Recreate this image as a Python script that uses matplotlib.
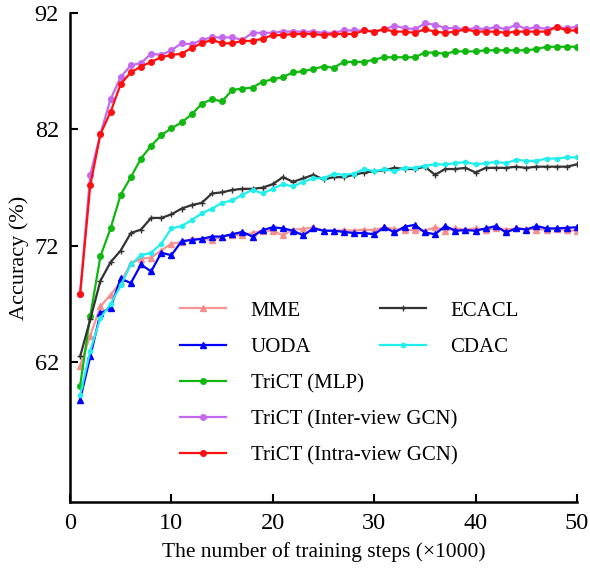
import matplotlib
matplotlib.use("Agg")
import matplotlib.pyplot as plt

# --- Data ---
steps = list(range(1, 51))

mme = [61.7, 64.3, 66.8, 67.8, 68.9, 70.5, 70.9, 71.0, 71.6, 72.2,
       72.3, 72.6, 72.6, 72.5, 72.8, 72.95, 72.9, 73.1, 73.3, 73.3,
       72.9, 73.4, 73.45, 73.6, 73.3, 73.3, 73.35, 73.3, 73.4, 73.35,
       73.6, 73.45, 73.35, 73.35, 73.3, 73.6, 73.3, 73.5, 73.4, 73.5,
       73.4, 73.5, 73.4, 73.5, 73.45, 73.4, 73.4, 73.45, 73.35, 73.3]

uoda = [58.8, 62.5, 66.2, 66.7, 69.2, 68.8, 70.4, 69.8, 71.4, 71.2,
        72.4, 72.5, 72.6, 72.8, 72.8, 73.0, 73.2, 72.8, 73.35, 73.6,
        73.5, 73.3, 72.9, 73.5, 73.3, 73.3, 73.2, 73.1, 73.1, 73.0,
        73.6, 73.15, 73.65, 73.8, 73.15, 73.0, 73.7, 73.3, 73.35, 73.3,
        73.5, 73.7, 73.15, 73.5, 73.4, 73.7, 73.5, 73.5, 73.55, 73.6]

trict_mlp = [60.0, 66.0, 71.1, 73.5, 76.4, 77.9, 79.5, 80.6, 81.5, 82.1,
             82.6, 83.3, 84.2, 84.6, 84.4, 85.4, 85.5, 85.6, 86.1, 86.3,
             86.5, 86.9, 87.0, 87.2, 87.4, 87.3, 87.8, 87.8, 87.8, 88.0,
             88.2, 88.2, 88.2, 88.2, 88.6, 88.6, 88.5, 88.7, 88.7, 88.7,
             88.8, 88.8, 88.8, 88.8, 88.8, 88.9, 89.1, 89.1, 89.1, 89.1]

trict_inter = [67.9, 78.1, 81.6, 84.6, 86.5, 87.5, 87.7, 88.5, 88.4, 88.8,
               89.4, 89.3, 89.7, 89.9, 89.9, 89.9, 89.7, 90.3, 90.3, 90.3,
               90.4, 90.4, 90.4, 90.4, 90.3, 90.3, 90.5, 90.5, 90.5, 90.4,
               90.6, 90.9, 90.7, 90.6, 91.1, 91.0, 90.7, 90.7, 90.6, 90.7,
               90.6, 90.8, 90.6, 91.0, 90.6, 90.8, 90.6, 90.8, 90.7, 90.8]

trict_intra = [67.9, 77.2, 81.6, 83.5, 85.9, 86.9, 87.4, 87.8, 88.2, 88.4,
               88.5, 89.0, 89.4, 89.7, 89.4, 89.4, 89.6, 89.6, 89.8, 90.1,
               90.1, 90.2, 90.2, 90.2, 90.1, 90.2, 90.2, 90.2, 90.5, 90.4,
               90.6, 90.4, 90.4, 90.3, 90.6, 90.4, 90.3, 90.4, 90.6, 90.4,
               90.4, 90.4, 90.3, 90.4, 90.4, 90.4, 90.4, 90.8, 90.5, 90.5]

ecacl = [62.5, 65.7, 69.0, 70.6, 71.6, 73.1, 73.4, 74.4, 74.4, 74.7,
         75.2, 75.5, 75.7, 76.5, 76.6, 76.8, 76.9, 76.9, 77.0, 77.3,
         77.9, 77.5, 77.8, 78.1, 77.7, 77.9, 77.9, 78.1, 78.3, 78.4,
         78.5, 78.7, 78.6, 78.6, 78.8, 78.1, 78.6, 78.6, 78.7, 78.3,
         78.7, 78.7, 78.7, 78.8, 78.7, 78.8, 78.8, 78.8, 78.8, 79.0]

cdac = [59.2, 63.0, 65.8, 67.0, 68.6, 70.4, 71.2, 71.4, 72.2, 73.5,
        73.7, 74.2, 74.8, 75.2, 75.7, 75.9, 76.4, 76.8, 76.5, 76.9,
        77.3, 77.1, 77.5, 77.8, 77.8, 78.2, 78.1, 78.2, 78.6, 78.4,
        78.6, 78.4, 78.7, 78.7, 78.9, 79.0, 79.0, 79.1, 79.2, 79.0,
        79.1, 79.2, 79.1, 79.4, 79.3, 79.3, 79.5, 79.5, 79.6, 79.6]

x_ticks = [0, 10, 20, 30, 40, 50]
y_ticks = [62, 72, 82, 92]

# --- Style ---
plt.rcParams['font.family'] = ['Liberation Serif', 'DejaVu Serif']

fig = plt.figure(figsize=(5.9, 5.77), dpi=100)
ax = fig.add_axes([70 / 590, 75 / 577, 507 / 590, 489 / 577])

lw = 1.6
ms = 4
mme_l, = ax.plot(steps, mme, color='#f58a8a', marker='^', ms=ms, lw=lw, alpha=0.9, label='MME')
uoda_l, = ax.plot(steps, uoda, color='#0000ff', marker='^', ms=ms, lw=lw, label='UODA')
mlp_l, = ax.plot(steps, trict_mlp, color='#10b810', marker='o', ms=ms, lw=lw, label='TriCT (MLP)')
ecacl_l, = ax.plot(steps, ecacl, color='#333333', marker='+', ms=ms, lw=lw, label='ECACL')
cdac_l, = ax.plot(steps, cdac, color='#22eeee', marker='o', ms=3, lw=lw, label='CDAC')
inter_l, = ax.plot(steps, trict_inter, color='#c469ee', marker='o', ms=ms, lw=lw, label='TriCT (Inter-view GCN)')
intra_l, = ax.plot(steps, trict_intra, color='#ff1010', marker='o', ms=ms, lw=lw, label='TriCT (Intra-view GCN)')

ax.set_xlim(0, 50)
ax.set_ylim(50, 92)
ax.set_xticks(x_ticks)
ax.set_yticks(y_ticks)
ax.tick_params(direction='in', length=6, width=1.5, labelsize=17.5, pad=8)

for side in ['top', 'right']:
    ax.spines[side].set_visible(False)
for side in ['left', 'bottom']:
    ax.spines[side].set_linewidth(1.8)

ax.set_xlabel("The number of training steps (×1000)", fontsize=15.5, labelpad=6)
ax.set_ylabel("Accuracy (%)", fontsize=16, labelpad=4)

# --- Legends (two columns placed separately) ---
leg_kw = dict(loc='upper left', frameon=False, fontsize=15, handlelength=2.2,
              handletextpad=1.2, labelspacing=0.8, borderpad=0, borderaxespad=0)
leg1 = ax.legend(handles=[mme_l, uoda_l, mlp_l, inter_l, intra_l],
                 bbox_to_anchor=(0.217, 0.411), **leg_kw)
ax.add_artist(leg1)
ax.legend(handles=[ecacl_l, cdac_l], bbox_to_anchor=(0.611, 0.411), **leg_kw)

fig.savefig("out.png", dpi=100)
plt.close(fig)
